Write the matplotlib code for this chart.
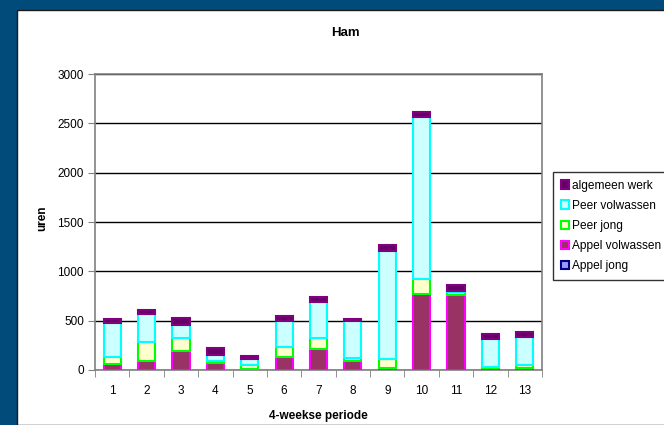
import matplotlib

matplotlib.use("Agg")
import matplotlib.pyplot as plt
import numpy as np
from matplotlib.patches import Patch, Rectangle


plt.rcParams["font.family"] = ["Liberation Sans", "DejaVu Sans"]

periods = [str(i) for i in range(1, 14)]

# hours per 4-week period, stacked bottom to top
appel_jong = [0, 0, 0, 0, 0, 0, 0, 0, 0, 0, 0, 0, 0]
appel_volwassen = [60, 90, 195, 75, 15, 135, 215, 95, 25, 770, 765, 20, 25]
peer_jong = [75, 190, 130, 20, 35, 100, 110, 25, 90, 150, 30, 10, 25]
peer_volwassen = [340, 290, 130, 60, 65, 260, 360, 380, 1095, 1640, 10, 280, 285]
algemeen_werk = [40, 35, 75, 70, 30, 50, 50, 20, 55, 50, 55, 50, 50]

series = [
    ("Appel jong", appel_jong, "#9999FF", "#000080"),
    ("Appel volwassen", appel_volwassen, "#993366", "#FF00FF"),
    ("Peer jong", peer_jong, "#FFFFCC", "#00FF00"),
    ("Peer volwassen", peer_volwassen, "#CCFFFF", "#00FFFF"),
    ("algemeen werk", algemeen_werk, "#660066", "#800080"),
]

fig = plt.figure(figsize=(6.64, 4.25), dpi=100)
fig.patch.set_facecolor("#004B7A")

# white chart area inside the dark frame
panel = Rectangle((17 / 664, 0), 1, 1 - 10 / 425, transform=fig.transFigure,
                  facecolor="white", edgecolor="#1a1a1a", linewidth=1, zorder=-5)
fig.patches.append(panel)

ax = fig.add_axes([95 / 664, 55 / 425, 447 / 664, 296 / 425])
ax.set_facecolor("white")

x = np.arange(len(periods))
bottom = np.zeros(len(periods))
for name, values, face, edge in series:
    vals = np.array(values, dtype=float)
    ax.bar(x, vals, width=0.5, bottom=bottom, color=face, edgecolor=edge,
           linewidth=1.5, zorder=3)
    bottom += vals

ax.set_xlim(-0.5, len(periods) - 0.5)
ax.set_ylim(0, 3000)
ax.set_yticks(range(0, 3001, 500))
ax.yaxis.grid(True, color="black", linewidth=1)
ax.set_axisbelow(True)

ax.set_xticks(x)
ax.set_xticklabels(periods)
ax.set_xticks(np.arange(-0.5, len(periods)), minor=True)
ax.tick_params(axis="x", which="major", length=0, pad=11, labelsize=8.5)
ax.tick_params(axis="x", which="minor", length=5, color="#808080", direction="out")
ax.tick_params(axis="y", length=5, color="#808080", direction="out", labelsize=8.5, pad=3)

for side in ["left", "bottom", "right", "top"]:
    ax.spines[side].set_color("#808080")
    ax.spines[side].set_linewidth(1.2)

ax.set_xlabel("4-weekse periode", fontsize=8.5, fontweight="bold", labelpad=9)
fig.text(42 / 664, 1 - 218 / 425, "uren", fontsize=8.5, fontweight="bold",
         rotation=90, ha="center", va="center")
fig.text(345 / 664, 1 - 33 / 425, "Ham", fontsize=9.5, fontweight="bold",
         ha="center", va="center")

handles = [Patch(facecolor=face, edgecolor=edge, linewidth=1.5, label=name)
           for name, _, face, edge in reversed(series)]
leg = fig.legend(handles=handles, loc="upper left",
                 bbox_to_anchor=(553 / 664, 1 - 172 / 425),
                 fontsize=8.6, frameon=True, fancybox=False, borderpad=0.65,
                 handlelength=0.72, handleheight=0.72, handletextpad=0.2,
                 labelspacing=0.68, borderaxespad=0)
leg.get_frame().set_edgecolor("black")
leg.get_frame().set_linewidth(1)

fig.savefig("out.png", dpi=100, facecolor=fig.get_facecolor())
